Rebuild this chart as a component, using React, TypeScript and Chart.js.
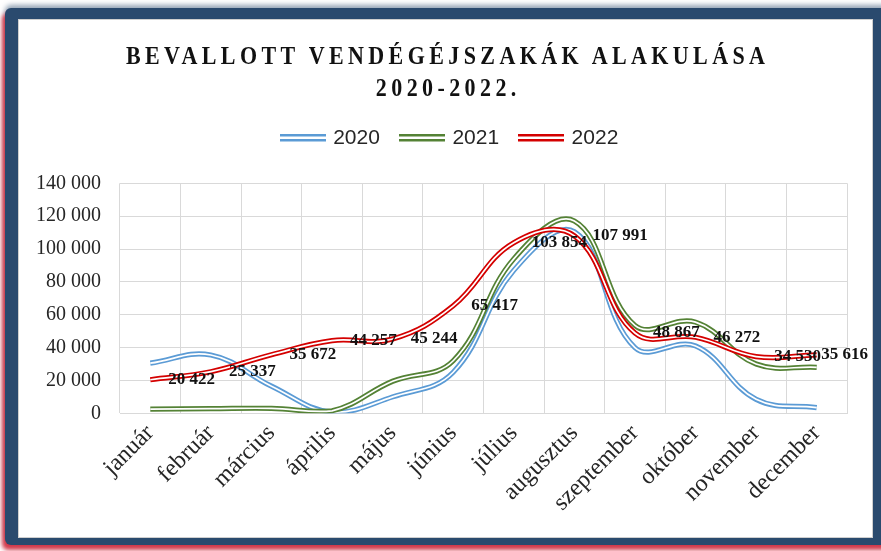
import React, { useEffect, useRef } from 'react';
import { Chart, registerables } from 'chart.js';

Chart.register(...registerables);

// ---- data ----
const months = ['január', 'február', 'március', 'április', 'május', 'június', 'július', 'augusztus', 'szeptember', 'október', 'november', 'december'];
const seriesNames = ['2020', '2021', '2022'];
const values2020 = [30500, 35500, 16500, 700, 10000, 25000, 87000, 110500, 40000, 41000, 8500, 3500];
const values2021 = [2500, 2800, 3000, 1500, 19500, 32000, 94000, 117000, 53500, 55500, 30000, 28000];
const values2022 = [20422, 25337, 35672, 44257, 45244, 65417, 103854, 107991, 48867, 46272, 34530, 35616];
const yMin = 0;
const yMax = 140000;
const yStep = 20000;
const titleLines = ['BEVALLOTT VENDÉGÉJSZAKÁK ALAKULÁSA', '2020-2022.'];

// ---- styles ----
const colors = ['#5B9BD5', '#548235', '#D40000'];
const SERIF = '"Liberation Serif", "Times New Roman", serif';
const SANS = '"Liberation Sans", Arial, sans-serif';
const CW = 853;
const CH = 517;
const PAD_TOP = 85.5;
const PAD_RIGHT = 25;
const PLOT_LEFT = 101;
const PLOT_TOP = 163.3;
const PLOT_BOTTOM = 393.3;
const LEGEND_FONT = 21;
const LEGEND_PAD = 22;
const LEGEND_SHIFT = 17.5;

const fmt = (n: number) => Math.round(n).toString().replace(/\B(?=(\d{3})+(?!\d))/g, ' ');

function makeLegendImg(color: string) {
  const c = document.createElement('canvas');
  c.width = 46;
  c.height = 8;
  const g = c.getContext('2d')!;
  g.fillStyle = color;
  g.fillRect(0, 0, 46, 2.5);
  g.fillRect(0, 5, 46, 2.5);
  return c;
}

const labelPlugin = {
  id: 'redLabels',
  afterDatasetsDraw(chart: any) {
    const meta = chart.getDatasetMeta(4);
    const ctx = chart.ctx;
    ctx.save();
    ctx.font = `bold 17px ${SERIF}`;
    ctx.fillStyle = '#111111';
    ctx.textBaseline = 'middle';
    ctx.textAlign = 'left';
    meta.data.forEach((pt: any, i: number) => {
      const text = fmt(values2022[i]);
      const w = ctx.measureText(text).width;
      let x = pt.x + 18;
      const maxX = chart.width - 4 - w;
      if (x > maxX) x = maxX;
      ctx.fillText(text, x, pt.y);
    });
    ctx.restore();
  },
};

const legendTweak = {
  id: 'legendTweak',
  beforeLayout(chart: any) {
    const lg = chart.legend;
    if (lg && !lg.__patched) {
      const origFit = lg.fit.bind(lg);
      lg.fit = function () {
        origFit();
        const natural = PAD_TOP + this.height;
        this.height += PLOT_TOP - natural;
      };
      const origDraw = lg.draw.bind(lg);
      lg.draw = function () {
        const ctx = chart.ctx;
        ctx.save();
        ctx.translate(LEGEND_SHIFT, 0);
        origDraw();
        ctx.restore();
      };
      lg.__patched = true;
    }
  },
};

export default function App() {
  const ref = useRef<HTMLCanvasElement | null>(null);

  useEffect(() => {
    if (!ref.current) return;
    const imgs = colors.map(makeLegendImg);
    const series = [values2020, values2021, values2022];
    const datasets: any[] = [];
    series.forEach((data, i) => {
      const baseOrder = (2 - i) * 2;
      datasets.push({
        label: seriesNames[i],
        data,
        borderColor: colors[i],
        backgroundColor: colors[i],
        borderWidth: 5.2,
        pointRadius: 0,
        pointHoverRadius: 0,
        tension: 0.4,
        fill: false,
        order: baseOrder + 1,
      });
      datasets.push({
        label: seriesNames[i],
        data,
        borderColor: '#ffffff',
        borderWidth: 1.7,
        pointRadius: 0,
        pointHoverRadius: 0,
        tension: 0.4,
        fill: false,
        order: baseOrder,
      });
    });

    const chart = new Chart(ref.current, {
      type: 'line',
      data: { labels: months, datasets },
      options: {
        responsive: false,
        animation: false,
        layout: { padding: { top: PAD_TOP, left: 0, right: PAD_RIGHT, bottom: 0 } },
        plugins: {
          title: { display: false },
          tooltip: { enabled: false },
          legend: {
            display: true,
            position: 'top',
            labels: {
              usePointStyle: true,
              pointStyleWidth: 40,
              padding: LEGEND_PAD,
              color: '#262626',
              font: { family: SANS, size: LEGEND_FONT },
              generateLabels: () =>
                seriesNames.map((name, i) => ({
                  text: name,
                  pointStyle: imgs[i],
                  fillStyle: colors[i],
                  strokeStyle: colors[i],
                  lineWidth: 0,
                  hidden: false,
                  datasetIndex: i * 2,
                  fontColor: '#262626',
                })),
            },
          },
        },
        scales: {
          x: {
            type: 'category',
            offset: true,
            grid: { offset: true, color: '#d9d9d9', lineWidth: 1, drawTicks: false },
            border: { display: true, color: '#d9d9d9' },
            ticks: {
              font: { family: SERIF, size: 24 },
              color: '#262626',
              minRotation: 45,
              maxRotation: 45,
              autoSkip: false,
              padding: 6,
            },
            afterFit: (s: any) => {
              s.height = CH - PLOT_BOTTOM;
            },
          },
          y: {
            min: yMin,
            max: yMax,
            ticks: {
              stepSize: yStep,
              font: { family: SERIF, size: 20 },
              color: '#262626',
              padding: 19,
              callback: (v: any) => fmt(Number(v)),
            },
            grid: { color: '#d9d9d9', drawTicks: false },
            border: { display: false },
            afterFit: (s: any) => {
              s.width = PLOT_LEFT;
            },
          },
        },
      } as any,
      plugins: [labelPlugin, legendTweak],
    });
    return () => chart.destroy();
  }, []);

  return (
    <div style={{ position: 'fixed', left: 0, top: 0, width: 881, height: 551, background: '#ffffff', overflow: 'hidden' }}>
      <div
        style={{
          position: 'absolute',
          left: 5,
          top: 8,
          width: 900,
          height: 537,
          background: '#2A4A6E',
          borderRadius: 6,
          boxShadow: '-3px 5px 4px rgba(205,35,55,0.9), 0 -3px 5px rgba(42,74,110,0.5)',
        }}
      />
      <div
        style={{
          position: 'absolute',
          left: 18,
          top: 19,
          width: 855,
          height: 519,
          background: '#ffffff',
          border: '1px solid #cfcfcf',
          boxSizing: 'border-box',
        }}
      >
        <canvas ref={ref} width={CW} height={CH} style={{ display: 'block', width: CW, height: CH }} />
      </div>
      <div
        style={{
          position: 'absolute',
          left: 19,
          top: 40,
          width: CW,
          textAlign: 'center',
          fontFamily: SERIF,
          fontWeight: 'bold',
          fontSize: 25,
          lineHeight: '32px',
          color: '#111111',
        }}
      >
        {titleLines.map((t) => (
          <div key={t}>
            <span style={{ display: 'inline-block', transform: 'scaleX(0.88)', letterSpacing: 5, marginRight: -5 }}>{t}</span>
          </div>
        ))}
      </div>
    </div>
  );
}
